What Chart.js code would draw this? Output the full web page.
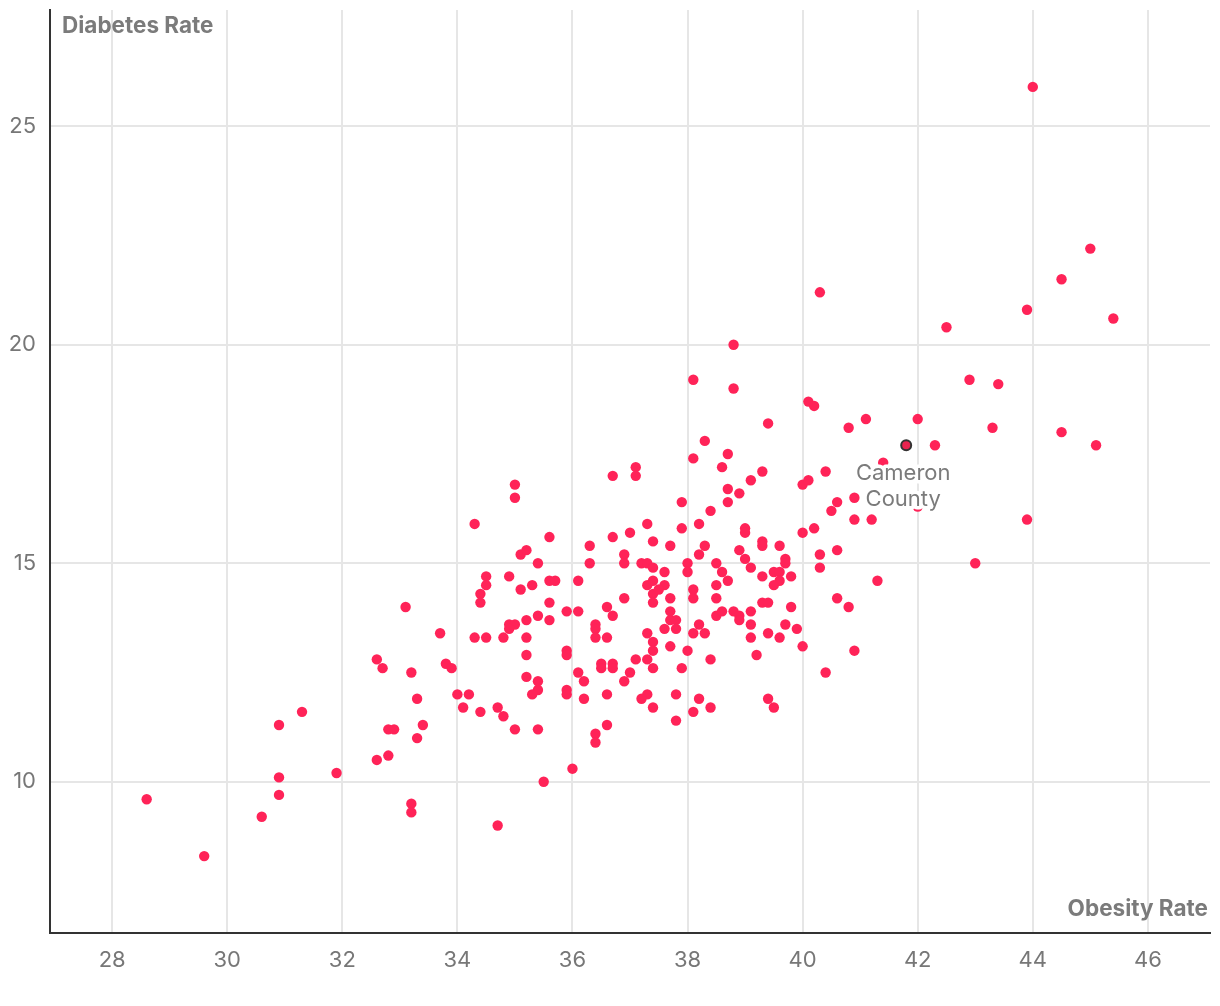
<!DOCTYPE html>
<html><head><meta charset="utf-8">
<script src="https://cdn.jsdelivr.net/npm/chart.js@4"></script>
<style>html,body{margin:0;padding:0;background:#fff}#wrap{width:1220px;height:1006px;position:relative}</style>
</head><body><div id="wrap"><canvas id="c" width="1220" height="1006"></canvas></div>
<script>
// Obesity rate (x) per county
const obesityRate = [
28.6,29.6,30.6,30.9,30.9,30.9,31.3,31.9,32.6,32.8,32.6,32.7,33.1,33.7,33.2,33.8,33.9,34.0,34.1,33.3,33.4,33.3,32.8,32.9,33.2,33.2,
35.0,35.0,34.3,35.6,35.1,35.2,35.4,36.3,36.3,36.7,37.1,37.1,36.7,37.0,37.3,37.4,36.9,36.9,37.2,37.3,37.4,34.5,34.5,34.4,34.4,34.9,35.1,35.3,35.6,35.7,36.1,35.6,35.9,36.1,35.4,35.6,35.2,34.9,35.0,34.9,34.3,34.5,34.8,35.2,36.6,36.7,36.9,36.4,36.4,36.4,36.6,35.9,37.3,37.4,37.4,37.3,37.4,37.4,37.4,
37.7,37.6,37.6,37.5,37.7,37.7,37.7,37.8,37.6,37.8,37.7,38.0,38.0,37.9,37.9,38.1,38.3,38.2,38.3,38.2,38.4,38.7,38.6,38.7,38.7,38.9,39.1,39.3,39.4,39.0,39.0,38.9,39.0,39.1,39.3,39.3,39.6,39.7,39.7,39.8,39.5,39.6,39.6,39.5,39.3,38.5,38.6,38.7,38.5,38.1,38.1,38.5,38.5,38.6,38.8,38.9,38.9,39.1,39.1,39.1,39.3,39.4,39.4,39.6,39.7,39.8,39.9,40.0,38.2,38.1,38.3,38.0,40.0,40.2,40.3,40.3,40.6,40.6,40.8,41.3,40.0,40.1,40.4,40.5,40.6,40.9,40.9,41.2,40.8,41.1,40.1,40.2,41.4,
35.9,35.2,36.5,36.5,36.7,36.7,37.1,37.3,37.4,37.0,36.9,36.1,36.2,36.2,36.6,35.9,35.9,35.2,35.4,35.4,35.3,34.2,34.4,34.7,34.8,35.0,35.4,36.6,36.4,36.4,37.3,37.2,37.4,36.0,35.5,34.7,
38.4,37.9,37.8,38.2,38.1,38.4,37.8,39.2,40.9,40.4,39.4,39.5,
44.0,45.0,44.5,45.4,43.9,42.5,40.3,38.8,38.1,38.8,42.9,43.4,
42.0,41.8,42.3,43.3,44.5,45.1,43.9,43.0,42.0
];
// Diabetes rate (y) per county
const diabetesRate = [
9.6,8.3,9.2,9.7,10.1,11.3,11.6,10.2,10.5,10.6,12.8,12.6,14.0,13.4,12.5,12.7,12.6,12.0,11.7,11.9,11.3,11.0,11.2,11.2,9.5,9.3,
16.8,16.5,15.9,15.6,15.2,15.3,15.0,15.4,15.0,17.0,17.2,17.0,15.6,15.7,15.9,15.5,15.2,15.0,15.0,15.0,14.9,14.7,14.5,14.3,14.1,14.7,14.4,14.5,14.6,14.6,14.6,14.1,13.9,13.9,13.8,13.7,13.7,13.6,13.6,13.5,13.3,13.3,13.3,13.3,14.0,13.8,14.2,13.6,13.5,13.3,13.3,13.0,13.4,13.2,13.0,14.5,14.6,14.3,14.1,
15.4,14.8,14.5,14.4,14.2,13.9,13.7,13.7,13.5,13.5,13.1,15.0,14.8,16.4,15.8,17.4,17.8,15.9,15.4,15.2,16.2,17.5,17.2,16.7,16.4,16.6,16.9,17.1,18.2,15.8,15.7,15.3,15.1,14.9,15.5,15.4,15.4,15.1,15.0,14.7,14.8,14.8,14.6,14.5,14.7,15.0,14.8,14.6,14.5,14.4,14.2,14.2,13.8,13.9,13.9,13.8,13.7,13.9,13.6,13.3,14.1,14.1,13.4,13.3,13.6,14.0,13.5,13.1,13.6,13.4,13.4,13.0,15.7,15.8,15.2,14.9,15.3,14.2,14.0,14.6,16.8,16.9,17.1,16.2,16.4,16.5,16.0,16.0,18.1,18.3,18.7,18.6,17.3,
12.9,12.9,12.7,12.6,12.7,12.6,12.8,12.8,12.6,12.5,12.3,12.5,12.3,11.9,12.0,12.1,12.0,12.4,12.3,12.1,12.0,12.0,11.6,11.7,11.5,11.2,11.2,11.3,11.1,10.9,12.0,11.9,11.7,10.3,10.0,9.0,
12.8,12.6,12.0,11.9,11.6,11.7,11.4,12.9,13.0,12.5,11.9,11.7,
25.9,22.2,21.5,20.6,20.8,20.4,21.2,20.0,19.2,19.0,19.2,19.1,
18.3,17.7,17.7,18.1,18.0,17.7,16.0,15.0,16.3
];
const highlightLabel = ['Cameron', 'County'];
const highlightObesity = 41.8;
const highlightDiabetes = 17.7;
const xTicks = [28, 30, 32, 34, 36, 38, 40, 42, 44, 46];
const yTicks = [10, 15, 20, 25];
const xTitle = 'Obesity Rate';
const yTitle = 'Diabetes Rate';

const points = obesityRate.map((v, i) => ({ x: v, y: diabetesRate[i] }));
const xMinD = Math.min(...obesityRate), xMaxD = Math.max(...obesityRate);
const yMinD = Math.min(...diabetesRate), yMaxD = Math.max(...diabetesRate);
const xPad = (xMaxD - xMinD) * 0.1, yPad = (yMaxD - yMinD) * 0.1;

const FONT = 'Inter, "Noto Sans", sans-serif';

const overlay = {
  id: 'overlay',
  afterDatasetsDraw(chart) {
    const { ctx, chartArea: a, scales: { x, y } } = chart;
    ctx.save();
    ctx.fillStyle = '#7b7b7b';
    ctx.font = '700 22.5px ' + FONT;
    ctx.textBaseline = 'middle';
    ctx.textAlign = 'left';
    ctx.fillText(yTitle, a.left + 12, a.top + 16);
    ctx.textAlign = 'right';
    ctx.fillText(xTitle, a.right - 2, a.bottom - 24);
    const px = x.getPixelForValue(highlightObesity);
    const py = y.getPixelForValue(highlightDiabetes);
    ctx.font = '400 22px ' + FONT;
    ctx.textAlign = 'center';
    ctx.lineJoin = 'round';
    ctx.strokeStyle = '#ffffff';
    ctx.lineWidth = 7;
    highlightLabel.forEach((t, i) => {
      const ty = py + 28.5 + i * 26;
      ctx.strokeText(t, px - 3, ty);
      ctx.fillText(t, px - 3, ty);
    });
    ctx.restore();
  }
};

function fixPad(s) { s.paddingTop = 0; s.paddingBottom = 0; s.paddingLeft = 0; s.paddingRight = 0; }

new Chart(document.getElementById('c'), {
  type: 'scatter',
  data: {
    datasets: [
      {
        data: [{ x: highlightObesity, y: highlightDiabetes }],
        backgroundColor: '#e8234f',
        borderColor: '#333333',
        borderWidth: 2,
        pointRadius: 5,
        order: 0
      },
      {
        data: points,
        backgroundColor: '#ff2358',
        borderWidth: 0,
        pointRadius: 5.2,
        order: 1
      }
    ]
  },
  options: {
    responsive: false,
    animation: false,
    events: [],
    layout: { padding: { top: 10, right: 10, left: 0, bottom: 0 } },
    plugins: { legend: { display: false }, tooltip: { enabled: false } },
    scales: {
      x: {
        type: 'linear',
        min: xMinD - xPad,
        max: xMaxD + xPad,
        afterBuildTicks: s => { s.ticks = xTicks.map(v => ({ value: v })); },
        afterFit: s => { s.height = 73; fixPad(s); },
        grid: { color: '#e6e6e6', lineWidth: 2, drawTicks: false },
        border: { display: true, color: '#333333', width: 2 },
        ticks: { padding: 14, color: '#777777', font: { family: FONT, size: 22 } }
      },
      y: {
        type: 'linear',
        min: yMinD - yPad,
        max: yMaxD + yPad,
        afterBuildTicks: s => { s.ticks = yTicks.map(v => ({ value: v })); },
        afterFit: s => { s.width = 50; fixPad(s); },
        grid: { color: '#e6e6e6', lineWidth: 2, drawTicks: false },
        border: { display: true, color: '#333333', width: 2 },
        ticks: { padding: 14, color: '#777777', font: { family: FONT, size: 22 } }
      }
    }
  },
  plugins: [overlay]
});
</script></body></html>
